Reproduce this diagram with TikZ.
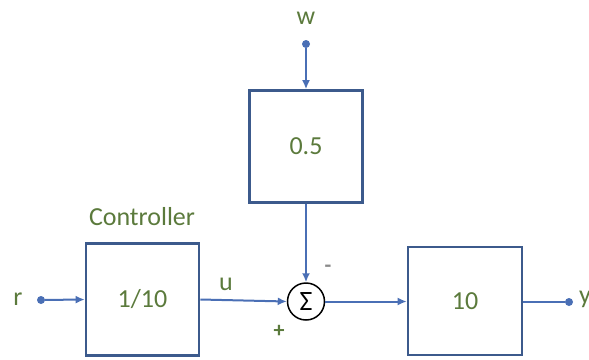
\documentclass[tikz,border=0pt]{standalone}
\usepackage{fontspec}
\setmainfont{Carlito}
\usetikzlibrary{arrows.meta}
\definecolor{boxblue}{HTML}{3C5A8C}
\definecolor{lineblue}{HTML}{4A6FB5}
\definecolor{txtgreen}{HTML}{5B7A3C}
\definecolor{minusgray}{HTML}{8A8A8A}
\begin{document}
\begin{tikzpicture}[x=1pt,y=-1pt,
  blk/.style={draw=boxblue,line width=2.6pt,minimum width=113pt,minimum height=112pt,inner sep=0pt,text=txtgreen,font=\fontsize{26}{26}\selectfont},
  lbl/.style={text=txtgreen,font=\fontsize{26}{26}\selectfont,inner sep=0pt},
  sig/.style={draw=lineblue,line width=2pt,-{Latex[length=9pt,width=8pt]}},
  wire/.style={draw=lineblue,line width=2pt},
  dotc/.style={circle,fill=lineblue,minimum size=8pt,inner sep=0pt}]
\useasboundingbox (0,0) rectangle (589,359);
\node[blk] (C) at (142.5,299.5) {1/10};
\node[blk] (H) at (306,146.5) {0.5};
\node[blk,minimum height=108pt,minimum width=114pt] (P) at (465,301) {10};
\node[circle,draw=black,line width=1.5pt,minimum size=37pt,inner sep=0pt,font=\fontsize{28}{28}\selectfont] (S) at (306,301.5) {Σ};
\node[dotc] (rd) at (41,300) {};
\node[dotc] (wd) at (306,44) {};
\node[dotc] (yd) at (569,302) {};
\node[lbl] (rl) at (18,299) {r};
\node[lbl] (wl) at (306,18) {w};
\node[lbl,anchor=west] (yl) at (579,299) {y};
\node[lbl] (ul) at (226,284) {u};
\node[lbl] (cl) at (142,217) {Controller};
\node[lbl,font=\bfseries\fontsize{22}{22}\selectfont] (pl) at (279,331) {+};
\node[lbl,text=minusgray,font=\bfseries\fontsize{22}{22}\selectfont] (ml) at (328,269) {-};
\draw[sig] (rd) -- (C.west);
\draw[sig] (wd) -- (H.north);
\draw[sig] (C.east) -- (S.west);
\draw[sig] (H.south) -- (S.north);
\draw[sig] (S.east) -- (P.west |- S.east);
\draw[wire] (P.east |- yd) -- (yd);
\end{tikzpicture}
\end{document}
